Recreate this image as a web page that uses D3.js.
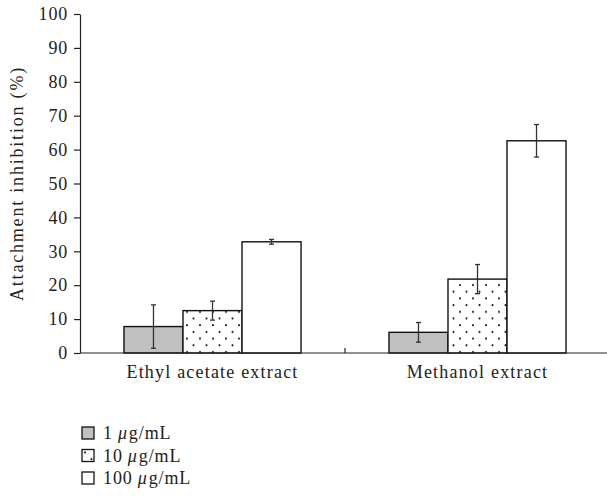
<!DOCTYPE html>
<html>
<head>
<meta charset="utf-8">
<script src="https://cdn.jsdelivr.net/npm/d3@7"></script>
<style>
  body { margin: 0; background: #fff; }
  svg { display: block; }
  text { font-family: "Liberation Serif", "DejaVu Serif", serif; fill: #222; }
</style>
</head>
<body>
<svg></svg>
<script>
const w = 607
const h = 500

// data
const extracts = ['Ethyl acetate extract', 'Methanol extract']
const doses = ['1', '10', '100']
const doseUnit = 'g/mL'
const means = [
  [7.8, 12.5, 32.8],   // ethyl acetate
  [6.1, 21.8, 62.6]    // methanol
]
const errs = [
  [6.4, 2.8, 0.7],
  [2.9, 4.3, 4.8]
]
const yTicks = [0, 10, 20, 30, 40, 50, 60, 70, 80, 90, 100]

const svg = d3.select('svg')
  .attr('width', w)
  .attr('height', h)

// fill patterns
const defs = svg.append('defs')
const pat = defs.append('pattern')
  .attr('id', 'dots')
  .attr('patternUnits', 'userSpaceOnUse')
  .attr('width', 13)
  .attr('height', 13.4)
pat.append('rect').attr('width', 13).attr('height', 13.4).attr('fill', '#fff')
pat.append('circle').attr('cx', 3).attr('cy', 3).attr('r', 1).attr('fill', '#111')
pat.append('circle').attr('cx', 9.5).attr('cy', 9.7).attr('r', 1).attr('fill', '#111')

const fills = ['#c0c0c0', 'url(#dots)', '#ffffff']

const margin = {top: 14, right: -3, bottom: 147, left: 80}
const innerWidth = w - margin.left - margin.right
const innerHeight = h - margin.top - margin.bottom

const xScale = d3.scaleBand()
  .domain(extracts)
  .range([0, innerWidth])

const xInner = d3.scaleBand()
  .domain(doses)
  .range([0, xScale.bandwidth()])
  .paddingOuter(0.745)
  .paddingInner(0)

const yScale = d3.scaleLinear()
  .domain([0, 100])
  .range([innerHeight, 0])

const g = svg.append('g')
  .attr('transform', `translate(${margin.left}, ${margin.top})`)

// bars
const rows = []
extracts.forEach((e, i) => doses.forEach((d, j) => {
  rows.push({ext: e, dose: d, j: j, v: means[i][j], err: errs[i][j]})
}))

g.selectAll('rect.bar').data(rows)
  .enter().append('rect')
  .attr('class', 'bar')
  .attr('x', d => xScale(d.ext) + xInner(d.dose))
  .attr('y', d => yScale(d.v))
  .attr('width', xInner.bandwidth())
  .attr('height', d => yScale(0) - yScale(d.v))
  .attr('fill', d => fills[d.j])
  .attr('stroke', '#111')
  .attr('stroke-width', 1.4)

// error bars
const eb = g.selectAll('g.err').data(rows)
  .enter().append('g')
  .attr('class', 'err')
  .attr('transform', d => `translate(${xScale(d.ext) + xInner(d.dose) + xInner.bandwidth() / 2}, 0)`)
  .attr('stroke', '#333')
  .attr('stroke-width', 1.3)
eb.append('line')
  .attr('y1', d => yScale(d.v + d.err))
  .attr('y2', d => yScale(Math.max(0, d.v - d.err)))
eb.append('line')
  .attr('x1', -2.5).attr('x2', 2.5)
  .attr('y1', d => yScale(d.v + d.err)).attr('y2', d => yScale(d.v + d.err))
eb.append('line')
  .attr('x1', -2.5).attr('x2', 2.5)
  .attr('y1', d => yScale(Math.max(0, d.v - d.err))).attr('y2', d => yScale(Math.max(0, d.v - d.err)))

// y axis
const yAxisG = g.append('g')
  .call(d3.axisLeft(yScale).tickValues(yTicks).tickSize(6).tickSizeOuter(0).tickPadding(6))
yAxisG.selectAll('.domain, .tick line').attr('stroke', '#222').attr('stroke-width', 1.2)
yAxisG.selectAll('text')
  .attr('font-size', '18px')
  .attr('letter-spacing', '0.8px')
  .attr('font-family', '"Liberation Serif", serif')
  .attr('fill', '#222')

// x axis: ticks at band boundaries, pointing up
const xAxisG = g.append('g')
  .attr('transform', `translate(0, ${innerHeight})`)
xAxisG.append('line')
  .attr('x1', 0).attr('x2', innerWidth)
  .attr('stroke', '#222').attr('stroke-width', 1.2)
xAxisG.selectAll('line.tk').data(extracts.slice(1))
  .enter().append('line')
  .attr('class', 'tk')
  .attr('x1', d => xScale(d)).attr('x2', d => xScale(d))
  .attr('y1', 0).attr('y2', -5)
  .attr('stroke', '#222').attr('stroke-width', 1.2)
xAxisG.selectAll('text.cat').data(extracts)
  .enter().append('text')
  .attr('class', 'cat')
  .attr('x', d => xScale(d) + xScale.bandwidth() / 2)
  .attr('y', 25)
  .attr('text-anchor', 'middle')
  .attr('font-size', '18px')
  .attr('letter-spacing', '1.2px')
  .text(d => d)

// y label
g.append('text')
  .attr('transform', `translate(${-57}, ${innerHeight / 2}) rotate(-90)`)
  .attr('text-anchor', 'middle')
  .attr('font-size', '18px')
  .attr('letter-spacing', '1.8px')
  .text('Attachment inhibition (%)')

// legend (separate text pieces so the mu can be italic)
const leg = svg.append('g')
  .attr('transform', 'translate(82, 427)')
const li = leg.selectAll('g').data(doses)
  .enter().append('g')
  .attr('transform', (d, i) => `translate(0, ${i * 22.5})`)
li.append('rect')
  .attr('width', 12).attr('height', 12)
  .attr('fill', (d, i) => fills[i])
  .attr('stroke', '#111').attr('stroke-width', 1.3)
li.each(function(d) {
  const row = d3.select(this)
  let x = 21
  const parts = [[d, 'normal', 5], ['\u03bc', 'italic', 1], [doseUnit, 'normal', 0]]
  parts.forEach(([s, style, gap]) => {
    const t = row.append('text')
      .attr('x', x).attr('y', 12)
      .attr('font-size', '18px')
      .attr('font-style', style)
      .attr('letter-spacing', '0.9px')
      .text(s)
    x += t.node().getComputedTextLength() + gap
  })
})
</script>
</body>
</html>
